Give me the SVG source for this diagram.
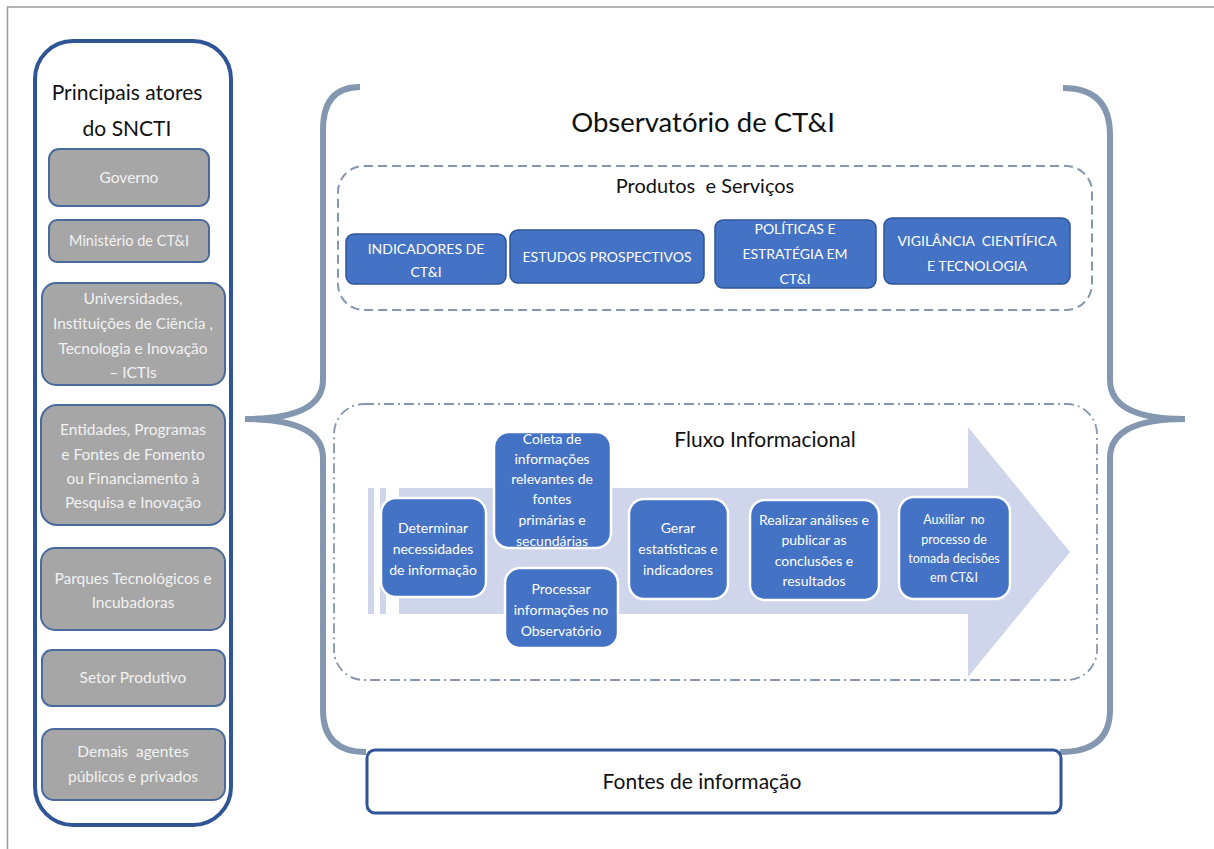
<svg xmlns="http://www.w3.org/2000/svg" width="1214" height="849" viewBox="0 0 1214 849">
<style>
text{font-family:Lato,"Open Sans","Liberation Sans",sans-serif;text-anchor:middle}
.gray rect{fill:#a6a6a6;stroke:#4a6a9c;stroke-width:2}
.gray text{fill:#f2f2f2;font-size:15.5px}
.prod rect{fill:#4472c4;stroke:#2f5597;stroke-width:1.5}
.prod text{fill:#fff;font-size:14px}
.proc rect{fill:#4472c4;stroke:#fff;stroke-width:2.5}
.proc text{fill:#fff;font-size:14px}
.brace{fill:none;stroke:#8497b0;stroke-width:6;stroke-linecap:butt}
</style>
<defs>
<clipPath id="cpColeta"><rect x="494" y="432" width="117" height="116" rx="15"/></clipPath>
<clipPath id="cpPol"><rect x="715" y="220" width="161" height="68" rx="8"/></clipPath>
</defs>
<rect width="1214" height="849" fill="#fff"/>
<g id="frame" stroke="#9a9a9a" stroke-width="1.5" fill="none">
<line x1="7" y1="7" x2="1214" y2="7"/>
<line x1="7.5" y1="7" x2="7.5" y2="849"/>
</g>

<g id="atores">
<rect x="35" y="41" width="196" height="784" rx="38" fill="#fff" stroke="#2f5597" stroke-width="4"/>
<text x="127" y="100" style="font-size:21px;fill:#111">Principais atores</text>
<text x="127" y="136" style="font-size:21px;fill:#111">do SNCTI</text>
</g>
<g id="governo" class="gray"><rect x="49" y="149" width="160" height="57" rx="10"/><text x="129" y="183">Governo</text></g>
<g id="ministerio" class="gray"><rect x="49" y="220" width="160" height="42" rx="8"/><text x="129" y="246" style="font-size:14.5px">Ministério de CT&amp;I</text></g>
<g id="universidades" class="gray"><rect x="42" y="283" width="183" height="102" rx="14"/>
<text x="133" y="304">Universidades,</text><text x="133" y="329">Instituições de Ciência ,</text><text x="133" y="354">Tecnologia e Inovação</text><text x="133" y="378">– ICTIs</text></g>
<g id="entidades" class="gray"><rect x="41" y="405" width="184" height="120" rx="16"/>
<text x="133" y="435">Entidades, Programas</text><text x="133" y="460">e Fontes de Fomento</text><text x="133" y="484">ou Financiamento à</text><text x="133" y="508">Pesquisa e Inovação</text></g>
<g id="parques" class="gray"><rect x="41" y="548" width="184" height="82" rx="14"/>
<text x="133" y="584">Parques Tecnológicos e</text><text x="133" y="608">Incubadoras</text></g>
<g id="setor" class="gray"><rect x="42" y="650" width="183" height="56" rx="10"/><text x="133" y="683">Setor Produtivo</text></g>
<g id="demais" class="gray"><rect x="42" y="729" width="183" height="71" rx="12"/>
<text x="133" y="757" xml:space="preserve">Demais  agentes</text><text x="133" y="782">públicos e privados</text></g>

<g id="connectors">
<path class="brace" d="M 360 87 Q 323 87 323 130 L 323 380 Q 323 419 245 419 Q 323 419 323 458 L 323 710 Q 323 752 366 752"/>
<path class="brace" d="M 1063 88 Q 1110 88 1110 135 L 1110 380 Q 1110 419 1185 419 Q 1110 419 1110 458 L 1110 710 Q 1110 752 1060 752"/>
</g>

<g id="observatorio">
<text x="703" y="132" style="font-size:27.5px;fill:#111">Observatório de CT&amp;I</text>
</g>

<g id="produtos">
<rect x="338" y="166" width="754" height="144" rx="26" fill="none" stroke="#8497b0" stroke-width="2" stroke-dasharray="9 5"/>
<text x="705" y="193" style="font-size:20px;fill:#111" xml:space="preserve">Produtos  e Serviços</text>
</g>
<g id="indicadores" class="prod"><rect x="346" y="234" width="160" height="50" rx="8"/><text x="426" y="254">INDICADORES DE</text><text x="426" y="277">CT&amp;I</text></g>
<g id="estudos" class="prod"><rect x="510" y="230" width="194" height="53" rx="8"/><text x="607" y="262">ESTUDOS PROSPECTIVOS</text></g>
<g id="politicas" class="prod"><rect x="715" y="220" width="161" height="68" rx="8"/>
<g clip-path="url(#cpPol)"><text x="795" y="234">POLÍTICAS E</text><text x="795" y="259">ESTRATÉGIA EM</text><text x="795" y="284">CT&amp;I</text></g></g>
<g id="vigilancia" class="prod"><rect x="884" y="218" width="186" height="66" rx="8"/><text x="977" y="246" xml:space="preserve">VIGILÂNCIA  CIENTÍFICA</text><text x="977" y="271">E TECNOLOGIA</text></g>

<g id="fluxo">
<rect x="334" y="404" width="763" height="276" rx="30" fill="none" stroke="#8497b0" stroke-width="1.8" stroke-dasharray="10 4 2 4"/>
<text x="765" y="447" style="font-size:21px;fill:#111">Fluxo Informacional</text>
<polygon points="399,488 968,488 968,427 1070,552 968,677 968,614 399,614" fill="#cfd5ea"/>
<rect x="368" y="488" width="6" height="126" fill="#cfd5ea"/>
<rect x="380" y="488" width="6" height="126" fill="#cfd5ea"/>
</g>
<g id="determinar" class="proc"><rect x="381" y="498" width="105" height="99" rx="15"/>
<text x="433" y="533">Determinar</text><text x="433" y="554">necessidades</text><text x="433" y="575">de informação</text></g>
<g id="coleta" class="proc"><rect x="494" y="432" width="117" height="116" rx="15"/>
<g clip-path="url(#cpColeta)"><text x="552" y="444">Coleta de</text><text x="552" y="464">informações</text><text x="552" y="484">relevantes de</text><text x="552" y="504">fontes</text><text x="552" y="525">primárias e</text><text x="552" y="546">secundárias</text></g></g>
<g id="processar" class="proc"><rect x="505" y="568" width="113" height="80" rx="15"/>
<text x="561" y="594">Processar</text><text x="561" y="615">informações no</text><text x="561" y="636">Observatório</text></g>
<g id="gerar" class="proc"><rect x="629" y="499" width="99" height="100" rx="15"/>
<text x="678" y="533">Gerar</text><text x="678" y="554">estatísticas e</text><text x="678" y="575">indicadores</text></g>
<g id="realizar" class="proc"><rect x="750" y="500" width="129" height="100" rx="15"/>
<text x="814" y="525">Realizar análises e</text><text x="814" y="545">publicar as</text><text x="814" y="566">conclusões e</text><text x="814" y="586">resultados</text></g>
<g id="auxiliar" class="proc"><rect x="899" y="497" width="111" height="102" rx="15"/>
<text x="954" y="524" style="font-size:12.5px" xml:space="preserve">Auxiliar  no</text><text x="954" y="544" style="font-size:12.5px">processo de</text><text x="954" y="563" style="font-size:12.5px">tomada decisões</text><text x="954" y="582" style="font-size:12.5px">em CT&amp;I</text></g>

<g id="fontes">
<rect x="367" y="750" width="694" height="63" rx="8" fill="#fff" stroke="#2f5597" stroke-width="3"/>
<text x="702" y="789" style="font-size:21px;fill:#111">Fontes de informação</text>
</g>
</svg>
